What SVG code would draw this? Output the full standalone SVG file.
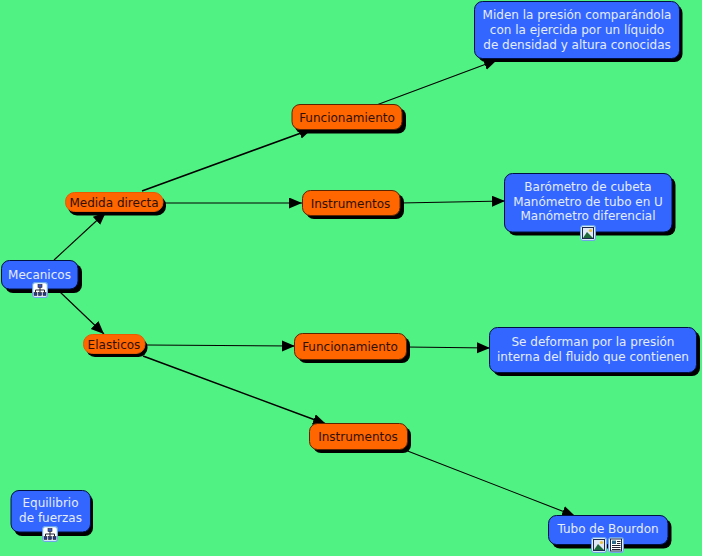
<svg xmlns="http://www.w3.org/2000/svg" width="702" height="556" viewBox="0 0 702 556">
<style>
text{font-family:"DejaVu Sans",Verdana,sans-serif;font-size:12px;text-anchor:middle}
.s{fill:#000}
.b{fill:#3366ff;stroke:#001040;stroke-width:1}
.o{fill:#ff6600;stroke:#5a2400;stroke-width:1}
.p{fill:#ff6600;stroke:#e85c00;stroke-width:1}
.bt{fill:#e4ecff}
.ot{fill:#301000}
.c{stroke:#000;stroke-width:1.1;fill:none;marker-end:url(#a)}
.t{stroke-width:1.6}
.ib{fill:#fff;stroke:#6ea8ea;stroke-width:1.2}
</style>
<defs>
<marker id="a" markerUnits="userSpaceOnUse" markerWidth="14" markerHeight="12" refX="13" refY="5.5" orient="auto"><path d="M0 0L13 5.5L0 11Z" fill="#000"/></marker>
<g id="tree"><rect class="ib" x="0.6" y="0.6" width="14.8" height="14.8" rx="2.500"/><path d="M8 5V8M3.500 10.500V8H12.500V10.500M8 8V10.500" stroke="#223" fill="none"/><rect x="6" y="2.500" width="4" height="3" fill="#3a4fb8" stroke="#223" stroke-width=".6"/><rect x="2" y="10.500" width="3" height="3" fill="#223a88" stroke="#223" stroke-width=".6"/><rect x="6.500" y="10.500" width="3" height="3" fill="#223a88" stroke="#223" stroke-width=".6"/><rect x="11" y="10.500" width="3" height="3" fill="#223a88" stroke="#223" stroke-width=".6"/></g>
<g id="pic"><rect class="ib" x="0.6" y="0.6" width="14.8" height="14.8" rx="2.500"/><rect x="2.500" y="2.500" width="11" height="11" fill="#dfe8f4" stroke="#1a2a4a"/><circle cx="10.500" cy="5.500" r="1.600" fill="#e8c040"/><path d="M3 13L7 7L10 10L13 13Z" fill="#1f6a3a"/></g>
<g id="doc"><rect class="ib" x="0.6" y="0.6" width="14.8" height="14.8" rx="2.500"/><rect x="2.500" y="2" width="11" height="12" fill="#fff" stroke="#1a2a4a"/><rect x="4" y="3.500" width="4" height="3.500" fill="#2f6a8a"/><path d="M9 4.500H12.500M9 6.500H12.500M4 8.500H12.500M4 10.500H12.500M4 12.500H12.500" stroke="#223"/></g>
</defs>
<rect width="702" height="556" fill="#50f283"/>
<g id="connectors">
<path class="c" d="M54 260L106 212"/>
<path class="c" d="M60 292L104 334"/>
<path class="c t" d="M142 191L312 129"/>
<path class="c" d="M163 203L302 203"/>
<path class="c" d="M147 345L295 346"/>
<path class="c t" d="M143 356L326 424"/>
<path class="c" d="M347 116L497 60"/>
<path class="c" d="M400 203L505 201"/>
<path class="c" d="M406 347L490 348"/>
<path class="c" d="M405 450L575 516"/>
</g>
<g id="mecanicos"><rect class="s" x="5" y="264" width="77" height="29" rx="8"/><rect class="b" x="1.500" y="260.500" width="76.500" height="28.500" rx="8"/><text class="bt" x="39.500" y="278.500">Mecanicos</text><use href="#tree" x="32" y="282"/></g>
<g id="medida"><rect class="s" x="68" y="196" width="98" height="19.500" rx="9"/><rect class="p" x="65.500" y="192.500" width="97.500" height="19" rx="9"/><text class="ot" x="114" y="206.500">Medida directa</text></g>
<g id="elasticos"><rect class="s" x="86" y="338" width="61.500" height="19" rx="9"/><rect class="p" x="83.500" y="334.500" width="61.500" height="19" rx="9"/><text class="ot" x="114" y="348.500">Elasticos</text></g>
<g id="func1"><rect class="s" x="295" y="108" width="111" height="25.500" rx="8"/><rect class="o" x="292" y="104.500" width="110" height="25" rx="8"/><text class="ot" x="347" y="122">Funcionamiento</text></g>
<g id="inst1"><rect class="s" x="306" y="194" width="98" height="25" rx="8"/><rect class="o" x="302.500" y="190.500" width="97.500" height="25" rx="8"/><text class="ot" x="350.500" y="208">Instrumentos</text></g>
<g id="func2"><rect class="s" x="298" y="337" width="112" height="26" rx="8"/><rect class="o" x="294.500" y="333.500" width="112" height="26" rx="8"/><text class="ot" x="350" y="351">Funcionamiento</text></g>
<g id="inst2"><rect class="s" x="313" y="427" width="98" height="26" rx="8"/><rect class="o" x="309.500" y="423.500" width="98" height="26" rx="8"/><text class="ot" x="358" y="441">Instrumentos</text></g>
<g id="box1"><rect class="s" x="478" y="5" width="204.500" height="57" rx="8"/><rect class="b" x="474.500" y="1.500" width="205" height="57" rx="8"/><text class="bt" x="577" y="19">Miden la presión comparándola</text><text class="bt" x="577" y="34">con la ejercida por un líquido</text><text class="bt" x="577" y="48.500">de densidad y altura conocidas</text></g>
<g id="box2"><rect class="s" x="508" y="177" width="167.500" height="58.500" rx="8"/><rect class="b" x="504.500" y="173.500" width="167.500" height="58.500" rx="8"/><text class="bt" x="588" y="191">Barómetro de cubeta</text><text class="bt" x="588" y="206">Manómetro de tubo en U</text><text class="bt" x="588" y="220">Manómetro diferencial</text><use href="#pic" x="580" y="225"/></g>
<g id="box3"><rect class="s" x="493" y="331" width="207" height="45" rx="8"/><rect class="b" x="489.500" y="327.500" width="207" height="45" rx="8"/><text class="bt" x="593" y="346">Se deforman por la presión</text><text class="bt" x="593" y="361">interna del fluido que contienen</text></g>
<g id="tubo"><rect class="s" x="552" y="519" width="119.500" height="29.500" rx="8"/><rect class="b" x="548.500" y="515.500" width="119.500" height="29" rx="8"/><text class="bt" x="608" y="532.500">Tubo de Bourdon</text><use href="#pic" x="591" y="537"/><use href="#doc" x="608" y="537"/></g>
<g id="equilibrio"><rect class="s" x="14" y="494" width="79" height="42" rx="8"/><rect class="b" x="11" y="490.500" width="79.500" height="41.500" rx="8"/><text class="bt" x="50.500" y="507">Equilibrio</text><text class="bt" x="50.500" y="522">de fuerzas</text><use href="#tree" x="42" y="526"/></g>
</svg>
